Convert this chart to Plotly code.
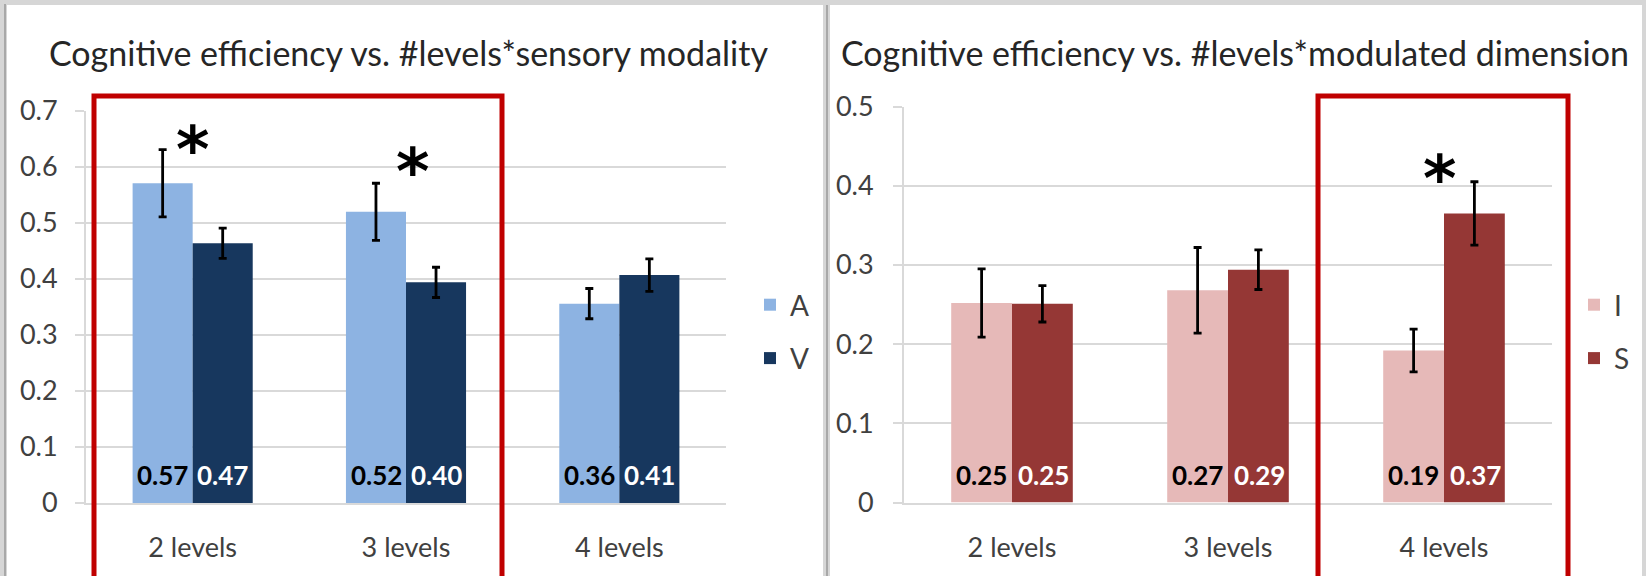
import plotly.graph_objects as go

W, H = 1646, 576

categories = ["2 levels", "3 levels", "4 levels"]

# Left panel: sensory modality
mod_names = ["A", "V"]
mod_A = [0.571, 0.520, 0.356]
mod_V = [0.464, 0.394, 0.407]
mod_A_err = [0.060, 0.051, 0.027]
mod_V_err = [0.027, 0.027, 0.029]
mod_A_lbl = ["0.57", "0.52", "0.36"]
mod_V_lbl = ["0.47", "0.40", "0.41"]
mod_star_cat = ["2 levels", "3 levels"]
mod_star_y = [0.644, 0.605]

# Right panel: modulated dimension
dim_names = ["I", "S"]
dim_I = [0.252, 0.268, 0.192]
dim_S = [0.251, 0.294, 0.365]
dim_I_err = [0.043, 0.054, 0.027]
dim_S_err = [0.023, 0.025, 0.040]
dim_I_lbl = ["0.25", "0.27", "0.19"]
dim_S_lbl = ["0.25", "0.29", "0.37"]
dim_star_cat = ["4 levels"]
dim_star_y = [0.419]

left_ticks = [0, 0.1, 0.2, 0.3, 0.4, 0.5, 0.6, 0.7]
left_ticktext = ["0", "0.1", "0.2", "0.3", "0.4", "0.5", "0.6", "0.7"]
right_ticks = [0, 0.1, 0.2, 0.3, 0.4, 0.5]
right_ticktext = ["0", "0.1", "0.2", "0.3", "0.4", "0.5"]

titles = ["Cognitive efficiency vs. #levels*sensory modality",
          "Cognitive efficiency vs. #levels*modulated dimension"]

C_A, C_V = "#8DB3E2", "#17375E"
C_I, C_S = "#E6B9B8", "#953735"
GRID = "#D9D9D9"
TXT = "#404040"
FONT = "Lato"

fig = go.Figure()

def add_bar(name, x, y, err, color, xa, ya, legend, group):
    fig.add_trace(go.Bar(
        name=name, x=x, y=y, marker=dict(color=color, line=dict(width=0)),
        error_y=dict(type="data", array=err, visible=True, color="black",
                     thickness=2.8, width=4),
        xaxis=xa, yaxis=ya, legend=legend, legendgroup=group,
        offsetgroup=group, hoverinfo="skip"))

add_bar(mod_names[0], categories, mod_A, mod_A_err, C_A, "x", "y", "legend", "A")
add_bar(mod_names[1], categories, mod_V, mod_V_err, C_V, "x", "y", "legend", "V")
add_bar(dim_names[0], categories, dim_I, dim_I_err, C_I, "x2", "y2", "legend2", "I")
add_bar(dim_names[1], categories, dim_S, dim_S_err, C_S, "x2", "y2", "legend2", "S")

ann = []
def add_labels(lbls, xref, yref, shift, color):
    for c, t in zip(categories, lbls):
        ann.append(dict(x=c, y=0, xref=xref, yref=yref, text=t, showarrow=False,
                        xshift=shift, yshift=10, yanchor="bottom",
                        font=dict(family=FONT, size=26, color=color, weight="bold")))

add_labels(mod_A_lbl, "x", "y", -30, "black")
add_labels(mod_V_lbl, "x", "y", 30, "white")
add_labels(dim_I_lbl, "x2", "y2", -31, "black")
add_labels(dim_S_lbl, "x2", "y2", 31, "white")

for c, yv, dx in zip(mod_star_cat, mod_star_y, [0, 6]):
    ann.append(dict(x=c, y=yv, xref="x", yref="y", text="*", showarrow=False,
                    xshift=dx, yshift=-8, yanchor="middle",
                    font=dict(family="DejaVu Sans", size=64, color="black", weight="bold")))
for c, yv in zip(dim_star_cat, dim_star_y):
    ann.append(dict(x=c, y=yv, xref="x2", yref="y2", text="*", showarrow=False,
                    xshift=-5, yshift=-8, yanchor="middle",
                    font=dict(family="DejaVu Sans", size=64, color="black", weight="bold")))

ann.append(dict(x=408 / W, y=1 - 52 / H, xref="paper", yref="paper", text=titles[0],
                showarrow=False, xanchor="center", yanchor="middle",
                font=dict(family=FONT, size=34, color="#262626")))
ann.append(dict(x=1235 / W, y=1 - 52 / H, xref="paper", yref="paper", text=titles[1],
                showarrow=False, xanchor="center", yanchor="middle",
                font=dict(family=FONT, size=34, color="#262626")))

shapes = [
    dict(type="rect", xref="paper", yref="paper", x0=7 / W, x1=823 / W, y0=-0.05, y1=1 - 5 / H,
         fillcolor="white", line=dict(width=0), layer="below"),
    dict(type="rect", xref="paper", yref="paper", x0=830 / W, x1=1642 / W, y0=-0.05, y1=1 - 5 / H,
         fillcolor="white", line=dict(width=0), layer="below"),
    dict(type="line", xref="paper", yref="paper", x0=827 / W, x1=827 / W, y0=-0.05, y1=1 - 5 / H,
         line=dict(color="#A8A8A8", width=2), layer="below"),
    dict(type="line", xref="paper", yref="paper", x0=5 / W, x1=5 / W, y0=-0.05, y1=1 - 4 / H,
         line=dict(color="#A8A8A8", width=2), layer="below"),
    dict(type="rect", xref="paper", yref="paper", x0=94 / W, x1=502 / W, y0=-0.05, y1=1 - 96 / H,
         fillcolor="rgba(0,0,0,0)", line=dict(color="#C00000", width=5), layer="above"),
    dict(type="rect", xref="paper", yref="paper", x0=1318 / W, x1=1568 / W, y0=-0.05, y1=1 - 96 / H,
         fillcolor="rgba(0,0,0,0)", line=dict(color="#C00000", width=5), layer="above"),
]

xaxis_common = dict(type="category", showgrid=False, showline=True, linecolor=GRID, linewidth=2,
                    ticks="", tickfont=dict(family=FONT, size=27, color=TXT),
                    ticklabelstandoff=20, fixedrange=True, automargin=False)
yaxis_common = dict(showgrid=True, gridcolor=GRID, gridwidth=2, showline=True, linecolor=GRID,
                    linewidth=2, ticks="outside", ticklen=9, tickcolor=GRID, tickwidth=2,
                    tickfont=dict(family=FONT, size=27, color=TXT), zeroline=False,
                    fixedrange=True, automargin=False)

fig.update_layout(
    width=W, height=H, autosize=False,
    margin=dict(l=0, r=0, t=0, b=0, pad=0, autoexpand=False),
    paper_bgcolor="#D6D6D6", plot_bgcolor="rgba(0,0,0,0)",
    barmode="group", bargap=0.437, bargroupgap=0,
    showlegend=True,
    xaxis=dict(domain=[86 / W, 726 / W], anchor="y", **xaxis_common),
    yaxis=dict(domain=[1 - 503 / H, 1 - 111 / H], anchor="x", range=[0, 0.7],
               tickvals=left_ticks, ticktext=left_ticktext, ticklabelstandoff=12,
               **yaxis_common),
    xaxis2=dict(domain=[904 / W, 1552 / W], anchor="y2", **xaxis_common),
    yaxis2=dict(domain=[1 - 502.6 / H, 1 - 106.5 / H], anchor="x2", range=[0, 0.5],
                tickvals=right_ticks, ticktext=right_ticktext, ticklabelstandoff=14,
                **yaxis_common),
    legend=dict(x=750 / W, y=1 - 280 / H, xanchor="left", yanchor="top",
                bgcolor="rgba(0,0,0,0)", font=dict(family=FONT, size=28, color=TXT),
                tracegroupgap=14, itemclick=False, itemdoubleclick=False),
    legend2=dict(x=1574 / W, y=1 - 280 / H, xanchor="left", yanchor="top",
                 bgcolor="rgba(0,0,0,0)", font=dict(family=FONT, size=28, color=TXT),
                 tracegroupgap=14, itemclick=False, itemdoubleclick=False),
    annotations=ann, shapes=shapes,
)

fig.write_html("out.html", config={"displayModeBar": False},
               post_script="document.body.style.margin='0';document.body.style.overflow='hidden';")
